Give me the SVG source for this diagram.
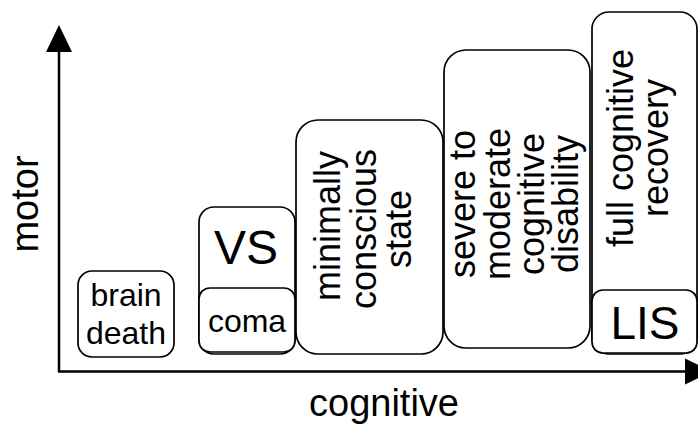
<svg xmlns="http://www.w3.org/2000/svg" width="698" height="427" viewBox="0 0 698 427">
<style>
.box{fill:#fff;stroke:#000;stroke-width:1.7}
.ax{stroke:#000;stroke-width:2.5;fill:none}
text{font-family:"Liberation Sans",Arial,sans-serif;fill:#000;text-anchor:middle}
.t32{font-size:32px}
.t36{font-size:36px}
.t38{font-size:38px}
</style>
<rect width="698" height="427" fill="#fff"/>
<g id="axes">
<line class="ax" x1="59" y1="372" x2="59" y2="50"/>
<polygon points="59,25 46,52 72,52" fill="#000"/>
<line class="ax" x1="58" y1="371.5" x2="687" y2="371.5"/>
<polygon points="685,358.5 685,384.5 712,371.5" fill="#000"/>
</g>
<g id="label-motor"><text class="t38" transform="translate(38,204) rotate(-90)">motor</text></g>
<g id="label-cognitive"><text class="t38" x="384" y="416">cognitive</text></g>
<g id="brain-death">
<rect class="box" x="78" y="271" width="96" height="86" rx="14"/>
<text class="t32" x="126" y="306">brain</text>
<text class="t32" x="126" y="344">death</text>
</g>
<g id="vs">
<rect class="box" x="199" y="207" width="96" height="147" rx="15"/>
<text x="246" y="264" style="font-size:48px">VS</text>
</g>
<g id="coma">
<rect class="box" x="199" y="288" width="96" height="64" rx="11"/>
<text class="t32" x="247" y="332">coma</text>
</g>
<g id="mcs">
<rect class="box" x="296" y="120" width="147" height="234" rx="22"/>
<text class="t36" transform="translate(340,226) rotate(-90)">minimally</text>
<text class="t36" transform="translate(376,229) rotate(-90)">conscious</text>
<text class="t36" transform="translate(411,229) rotate(-90)">state</text>
</g>
<g id="severe">
<rect class="box" x="444" y="50" width="146" height="298" rx="22"/>
<text class="t36" transform="translate(475,204) rotate(-90)">severe to</text>
<text class="t36" transform="translate(510,204) rotate(-90)">moderate</text>
<text class="t36" transform="translate(544,204) rotate(-90)">cognitive</text>
<text class="t36" transform="translate(578,204) rotate(-90)">disability</text>
</g>
<g id="full-recovery">
<rect class="box" x="592" y="12" width="105" height="342" rx="17"/>
<text class="t36" transform="translate(633,148) rotate(-90)">full cognitive</text>
<text class="t36" transform="translate(668,148) rotate(-90)">recovery</text>
</g>
<g id="lis">
<rect class="box" x="592" y="290" width="105" height="63" rx="11"/>
<text x="645" y="339" style="font-size:46px">LIS</text>
</g>
</svg>
